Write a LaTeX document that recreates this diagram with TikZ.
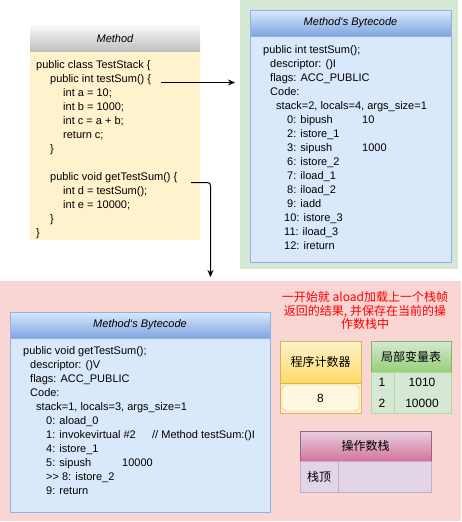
\documentclass[tikz,border=0pt]{standalone}
\usepackage{fontspec}
\setmainfont{Liberation Sans}
\newfontfamily\cjk{Noto Sans CJK SC}
\usepackage{tikz}
\usetikzlibrary{arrows.meta}
\definecolor{grnbg}{HTML}{D5E8D4}
\definecolor{pinkbg}{HTML}{F9D6D3}
\definecolor{yelbody}{HTML}{FFF2CC}
\definecolor{grayhi}{HTML}{FAFAFA}
\definecolor{graylo}{HTML}{BDBDBD}
\definecolor{bluebody}{HTML}{DAE8FC}
\definecolor{bluelo}{HTML}{7EA6E0}
\definecolor{blueline}{HTML}{8DB2EA}
\definecolor{yelline}{HTML}{D6B656}
\definecolor{yello}{HTML}{FFD966}
\definecolor{grnline}{HTML}{82B366}
\definecolor{grnlo}{HTML}{97D077}
\definecolor{grnsoft}{HTML}{B5D5A5}
\definecolor{purhi}{HTML}{E6D0DE}
\definecolor{purlo}{HTML}{D5739D}
\definecolor{purline}{HTML}{996185}
\definecolor{purbody}{HTML}{E1D5E7}
\definecolor{pursoft}{HTML}{C3ABD0}
\newcommand\bcop[3]{\makebox[#1pt][l]{#2}#3}
\newcommand\bctitle{Method\symbol{96}s Bytecode}
\tikzset{
    box/.style = {rectangle, inner sep=0pt, outer sep=0pt, anchor=north west},
    box-title/.style = {box, font=\fontsize{11}{13}\selectfont\itshape},
    blue-title/.style = {box-title, draw=blueline, top color=bluebody, bottom color=bluelo},
    blue-body/.style = {box, draw=blueline, fill=bluebody},
    code/.style = {inner sep=0pt, anchor=north west, align=left, font=\fontsize{11}{14}\selectfont},
    cell/.style = {inner sep=0pt, font=\fontsize{12}{14}\selectfont},
    head-cell/.style = {box, font=\cjk\fontsize{12}{14}\selectfont},
    link/.style = {-{Stealth[length=7pt,width=6pt]}, line width=1pt, black},
}
\begin{document}
\begin{tikzpicture}[x=1pt,y=-1pt]
\useasboundingbox (0,0) rectangle (461,522);

% frames
\node[box, fill=grnbg, minimum width=218pt, minimum height=269pt] (bcFrame) at (240,0) {};
\node[box, fill=pinkbg, minimum width=461pt, minimum height=240pt] (callFrame) at (0,281) {};

% source code
\node[box-title, top color=grayhi, bottom color=graylo, minimum width=170pt, minimum height=27pt] (methodHead) at (30,25) {Method};
\node[box, fill=yelbody, minimum width=170pt, minimum height=188pt] (methodBody) at (methodHead.south west) {};
\node[code] (methodCode) at (36,60) {public class TestStack \{\\
    \hspace*{14pt}public int testSum() \{\\
    \hspace*{27pt}int a = 10;\\
    \hspace*{27pt}int b = 1000;\\
    \hspace*{27pt}int c = a + b;\\
    \hspace*{27pt}return c;\\
    \hspace*{14pt}\}\\[14pt]
    \hspace*{14pt}public void getTestSum() \{\\
    \hspace*{27pt}int d = testSum();\\
    \hspace*{27pt}int e = 10000;\\
    \hspace*{14pt}\}\\
    \}};
\coordinate (testSumEnd) at (161,82.5);
\coordinate (getTestSumEnd) at (191,182.5);

% bytecode of testSum
\node[blue-title, minimum width=201pt, minimum height=26pt] (bcTopHead) at (250,10) {\bctitle};
\node[blue-body, minimum width=201pt, minimum height=226pt] (bcTopBody) at (bcTopHead.south west) {};
\node[code] (bcTopCode) at (263,45) {public int testSum();\\
    \hspace*{7pt}descriptor: ()I\\
    \hspace*{7pt}flags: ACC\_PUBLIC\\
    \hspace*{7pt}Code:\\
    \hspace*{13pt}stack=2, locals=4, args\_size=1\\
    \bcop{99}{\hspace*{24pt}0: bipush}{10}\\
    \hspace*{24pt}2: istore\_1\\
    \bcop{99}{\hspace*{24pt}3: sipush}{1000}\\
    \hspace*{24pt}6: istore\_2\\
    \hspace*{24pt}7: iload\_1\\
    \hspace*{24pt}8: iload\_2\\
    \hspace*{24pt}9: iadd\\
    \hspace*{21pt}10: istore\_3\\
    \hspace*{21pt}11: iload\_3\\
    \hspace*{21pt}12: ireturn};

% bytecode of getTestSum
\node[blue-title, minimum width=260pt, minimum height=26pt] (bcLowHead) at (10,312) {\bctitle};
\node[blue-body, minimum width=260pt, minimum height=174pt] (bcLowBody) at (bcLowHead.south west) {};
\node[code] (bcLowCode) at (23,346) {public void getTestSum();\\
    \hspace*{7pt}descriptor: ()V\\
    \hspace*{7pt}flags: ACC\_PUBLIC\\
    \hspace*{7pt}Code:\\
    \hspace*{13pt}stack=1, locals=3, args\_size=1\\
    \hspace*{23pt}0: aload\_0\\
    \bcop{129}{\hspace*{23pt}1: invokevirtual \#2}{// Method testSum:()I}\\
    \hspace*{23pt}4: istore\_1\\
    \bcop{99}{\hspace*{23pt}5: sipush}{10000}\\
    \hspace*{23pt}>{}> 8: istore\_2\\
    \hspace*{23pt}9: return};

% note
\node[align=center, text=red, inner sep=0pt, font=\cjk\fontsize{12}{13.5}\selectfont] (note) at (365,310.5) {一开始就 aload加载上一个栈帧\\返回的结果, 并保存在当前的操\\作数栈中};

% program counter
\node[head-cell, draw=yelline, top color=yelbody, bottom color=yello, minimum width=81pt, minimum height=42pt] (pcHead) at (280,341) {程序计数器};
\node[box, draw=yelline, fill=yelbody, minimum width=81pt, minimum height=30pt] (pcBody) at (pcHead.south west) {};
\node[cell, draw=yelline, fill=yelbody!60!white, rounded corners=4pt, minimum width=77pt, minimum height=26pt] (pcValue) at (pcBody.center) {8};

% local variables
\node[head-cell, draw=grnline, top color=grnbg, bottom color=grnlo, minimum width=80pt, minimum height=31pt] (lvHead) at (371,341) {局部变量表};
\node[box, draw=grnsoft, fill=grnbg, minimum width=80pt, minimum height=41pt] (lvBody) at (lvHead.south west) {};
\draw[grnsoft] ([xshift=23pt]lvBody.north west) -- ([xshift=23pt]lvBody.south west);
\node[cell] (lvIdxA) at (382,382) {1};
\node[cell] (lvValA) at (422,382) {1010};
\node[cell] (lvIdxB) at (382,403) {2};
\node[cell] (lvValB) at (422,403) {10000};

% operand stack
\node[head-cell, draw=purline, top color=purhi, bottom color=purlo, minimum width=131pt, minimum height=30pt] (osHead) at (300,431) {操作数栈};
\node[box, draw=pursoft, fill=purbody, minimum width=131pt, minimum height=31pt] (osBody) at (osHead.south west) {};
\draw[pursoft] ([xshift=38pt]osBody.north west) -- ([xshift=38pt]osBody.south west);
\node[cell, font=\cjk\fontsize{12}{14}\selectfont] (osTop) at (319,477) {栈顶};

% links
\draw[link] (testSumEnd) -- ([xshift=-5pt]testSumEnd -| bcFrame.west);
\draw[link, rounded corners=3pt] (getTestSumEnd) -| ([yshift=4pt]callFrame.north -| 210.5,0);
\end{tikzpicture}
\end{document}
